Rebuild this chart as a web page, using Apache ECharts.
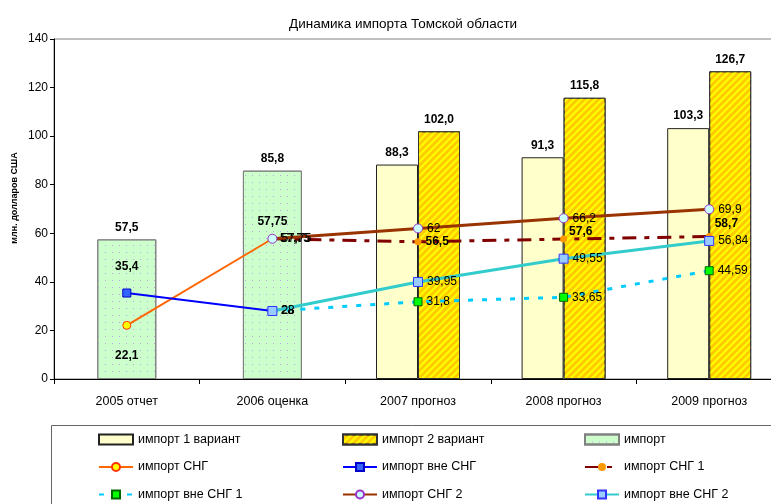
<!DOCTYPE html>
<html>
<head>
<meta charset="utf-8">
<script src="https://cdn.jsdelivr.net/npm/echarts@6/dist/echarts.min.js"></script>
<style>
  html, body { margin: 0; padding: 0; background: #fff; }
  #chart { width: 771px; height: 504px; }
</style>
</head>
<body>
<div id="chart"></div>
<script>
// данные
const years = ['2005 отчет', '2006 оценка', '2007 прогноз', '2008 прогноз', '2009 прогноз'];
const import1 = [null, null, 88.3, 91.3, 103.3];
const import2 = [null, null, 102.0, 115.8, 126.7];
const importFact = [57.5, 85.8, null, null, null];
const importSng = [22.1, 57.75, null, null, null];
const importNonSng = [35.4, 28, null, null, null];
const importSng1 = [null, 57.75, 56.5, 57.6, 58.7];
const importNonSng1 = [null, 28, 31.8, 33.65, 44.59];
const importSng2 = [null, 57.75, 62, 66.2, 69.9];
const importNonSng2 = [null, 28, 39.95, 49.55, 56.84];

const FONT = 'Arial, "Liberation Sans", sans-serif';
const fmt1 = p => p.value.toFixed(1).replace('.', ',');
const fmt = p => String(p.value).replace('.', ',');

const barLabel = { show: true, position: 'top', distance: 6, formatter: fmt1,
  color: '#000', fontSize: 12, fontWeight: 'bold', fontFamily: FONT };
const lineLabel = (bold) => ({ show: true, position: 'right', distance: 4, formatter: fmt,
  color: '#000', fontSize: 12, fontWeight: bold ? 'bold' : 'normal', fontFamily: FONT });

const legendBase = { top: 433, orient: 'vertical', padding: 0, itemGap: 14.5, itemWidth: 34, itemHeight: 10,
  textStyle: { fontSize: 12.5, color: '#000', fontFamily: FONT } };

let myChart = echarts.init(document.getElementById('chart'));
myChart.setOption({
  animation: false,
  title: {
    text: 'Динамика импорта Томской области',
    left: 284, top: 12,
    textStyle: { fontSize: 13.5, fontWeight: 'normal', color: '#000', fontFamily: FONT }
  },
  grid: { left: 54, top: 39, width: 728, bottom: 125, show: true, borderColor: '#808080', borderWidth: 1,
    outerBoundsMode: 'none' },
  xAxis: [
    {
      type: 'category', data: years, boundaryGap: true,
      axisLine: { lineStyle: { color: '#000' } },
      axisTick: { show: true, interval: 0, length: 5, lineStyle: { color: '#000' } },
      axisLabel: { color: '#000', fontSize: 12.5, fontFamily: FONT, margin: 16, interval: 0 }
    },
    { type: 'category', data: years, show: false }
  ],
  yAxis: {
    type: 'value', min: 0, max: 140, interval: 20,
    axisLine: { show: true, lineStyle: { color: '#000' } },
    axisTick: { show: true, length: 4, lineStyle: { color: '#000' } },
    axisLabel: { color: '#000', fontSize: 12, fontFamily: FONT, margin: 6 },
    splitLine: { show: false }
  },
  legend: [
    Object.assign({ left: 98, data: [{ name: 'импорт 1 вариант', icon: 'rect' }, 'импорт СНГ', 'импорт вне СНГ 1'] }, legendBase),
    Object.assign({ left: 342, data: [{ name: 'импорт 2 вариант', icon: 'rect' }, 'импорт вне СНГ', 'импорт СНГ 2'] }, legendBase),
    Object.assign({ left: 584, data: [{ name: 'импорт', icon: 'rect' }, 'импорт СНГ 1', 'импорт вне СНГ 2'] }, legendBase)
  ],
  graphic: [
    { type: 'rect', left: 49, top: 423, shape: { width: 800, height: 120 },
      style: { fill: 'none', stroke: '#666', lineWidth: 1 }, silent: true },
    { type: 'text', x: 15, y: 198, rotation: Math.PI / 2, silent: true,
      style: { text: 'млн. долларов США', fontSize: 9, fontWeight: 'bold', fill: '#000', fontFamily: FONT,
        align: 'center', verticalAlign: 'middle' } }
  ],
  series: [
    {
      name: 'импорт 1 вариант', type: 'bar', data: import1, barWidth: 42, barGap: '0%',
      itemStyle: { color: '#FFFFCC', borderColor: '#222', borderWidth: 1 },
      label: barLabel
    },
    {
      name: 'импорт 2 вариант', type: 'bar', data: import2, barWidth: 42, barGap: '0%',
      itemStyle: {
        color: '#FFCC00', borderColor: '#333', borderWidth: 1,
        decal: { symbol: 'rect', symbolSize: 1, dashArrayX: [1, 0], dashArrayY: [2, 3],
          rotation: -Math.PI / 4, color: '#FFFF00' }
      },
      label: barLabel
    },
    {
      name: 'импорт', type: 'bar', xAxisIndex: 1, data: importFact, barWidth: 59,
      itemStyle: {
        color: '#CCFFCC', borderColor: '#808080', borderWidth: 1,
        decal: { symbol: 'rect', symbolSize: 1, dashArrayX: [1, 6], dashArrayY: [1, 6], color: '#B9A8E8' }
      },
      label: barLabel
    },
    {
      name: 'импорт СНГ', type: 'line', data: importSng.map((v, i) => v == null ? null : {
        value: v, label: i === 0 ? { position: 'bottom', distance: 20 } : { position: 'top', distance: 7 } }),
      lineStyle: { color: '#FF6600', width: 2 },
      itemStyle: { color: '#FFFF00', borderColor: '#FF3300', borderWidth: 1 },
      symbol: 'circle', symbolSize: 8, label: lineLabel(true), z: 3
    },
    {
      name: 'импорт вне СНГ', type: 'line', data: importNonSng.map((v, i) => v == null ? null : {
        value: v, label: i === 0 ? { position: 'top', distance: 16 } : { position: 'right' } }),
      lineStyle: { color: '#0000FF', width: 2 },
      itemStyle: { color: '#3366FF', borderColor: '#0000CC', borderWidth: 1 },
      symbol: 'rect', symbolSize: 8, label: lineLabel(true), z: 3
    },
    {
      name: 'импорт СНГ 1', type: 'line', data: importSng1.map((v, i) => v == null ? null : (i >= 3 ? {
        value: v, label: { offset: [-2, i === 3 ? -7 : -13] } } : v)),
      lineStyle: { color: '#800000', width: 3, type: [14, 8, 5, 8] },
      itemStyle: { color: '#FF9900', borderWidth: 0 },
      symbol: 'circle', symbolSize: 7, label: lineLabel(true), z: 3
    },
    {
      name: 'импорт вне СНГ 1', type: 'line', data: importNonSng1,
      lineStyle: { color: '#00CCFF', width: 3, type: [5, 9] },
      itemStyle: { color: '#00FF00', borderColor: '#006600', borderWidth: 1 },
      symbol: 'rect', symbolSize: 8, label: lineLabel(false), z: 3
    },
    {
      name: 'импорт СНГ 2', type: 'line', data: importSng2,
      lineStyle: { color: '#993300', width: 3 },
      itemStyle: { color: '#CCFFFF', borderColor: '#9933CC', borderWidth: 1 },
      symbol: 'circle', symbolSize: 9, label: lineLabel(false), z: 4
    },
    {
      name: 'импорт вне СНГ 2', type: 'line', data: importNonSng2,
      lineStyle: { color: '#33CCCC', width: 3 },
      itemStyle: { color: '#99CCFF', borderColor: '#3333FF', borderWidth: 1 },
      symbol: 'rect', symbolSize: 9, label: lineLabel(false), z: 4
    }
  ]
});
</script>
</body>
</html>
